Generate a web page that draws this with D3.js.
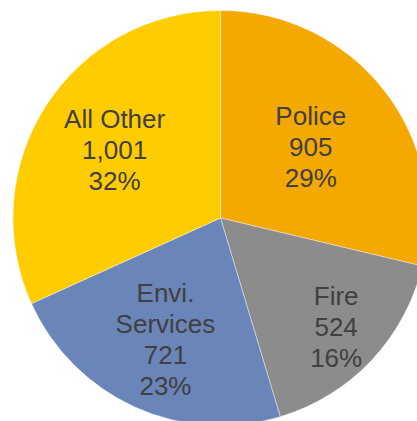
<!DOCTYPE html>
<html>
<head>
<meta charset="utf-8">
<script src="https://cdn.jsdelivr.net/npm/d3@7"></script>
<style>
    html, body { margin: 0; padding: 0; background: #fff; }
    svg { display: block; }
</style>
</head>
<body>
<div id="chart"></div>
<script>
// data
var categories = ['Police', 'Fire', 'Envi.\nServices', 'All Other'];
var counts = [905, 524, 721, 1001];
var percents = [29, 16, 23, 32];
var colors = ['#F5A800', '#8C8C8C', '#6A85B8', '#FFCC00'];

// layout
var width = 417, height = 421;
var cx = 220.5, cy = 218, radius = 207.5;
var labelRadius = [115, 159, 133, 126]; // best-fit distance from centre
var lineHeight = 31;

var svg = d3.select('#chart').append('svg')
    .attr('width', width)
    .attr('height', height);

var g = svg.append('g')
    .attr('transform', 'translate(' + cx + ',' + cy + ')');

var pie = d3.pie().sort(null).value(function (d) { return d; });
var arcs = pie(counts);

var arc = d3.arc().innerRadius(0).outerRadius(radius);

g.selectAll('path.slice')
    .data(arcs)
    .enter()
    .append('path')
    .attr('class', 'slice')
    .attr('d', arc)
    .attr('fill', function (d, i) { return colors[i]; })
    .attr('stroke', '#fff')
    .attr('stroke-width', 0.5)
    .attr('stroke-opacity', 0.8);

var fmt = d3.format(',');

// labels
arcs.forEach(function (d, i) {
    var r = labelRadius[i];
    var a = (d.startAngle + d.endAngle) / 2;
    var x = Math.sin(a) * r,
        y = -Math.cos(a) * r;
    var lines = categories[i].split('\n').concat([fmt(counts[i]), percents[i] + '%']);

    var t = g.append('text')
        .attr('text-anchor', 'middle')
        .attr('font-family', '"Liberation Sans", Arial, sans-serif')
        .attr('font-size', 26)
        .attr('fill', '#404040');

    lines.forEach(function (s, j) {
        t.append('tspan')
            .attr('x', x)
            .attr('y', y + (j - (lines.length - 1) / 2) * lineHeight)
            .attr('dy', '0.36em')
            .text(s);
    });
});
</script>
</body>
</html>
